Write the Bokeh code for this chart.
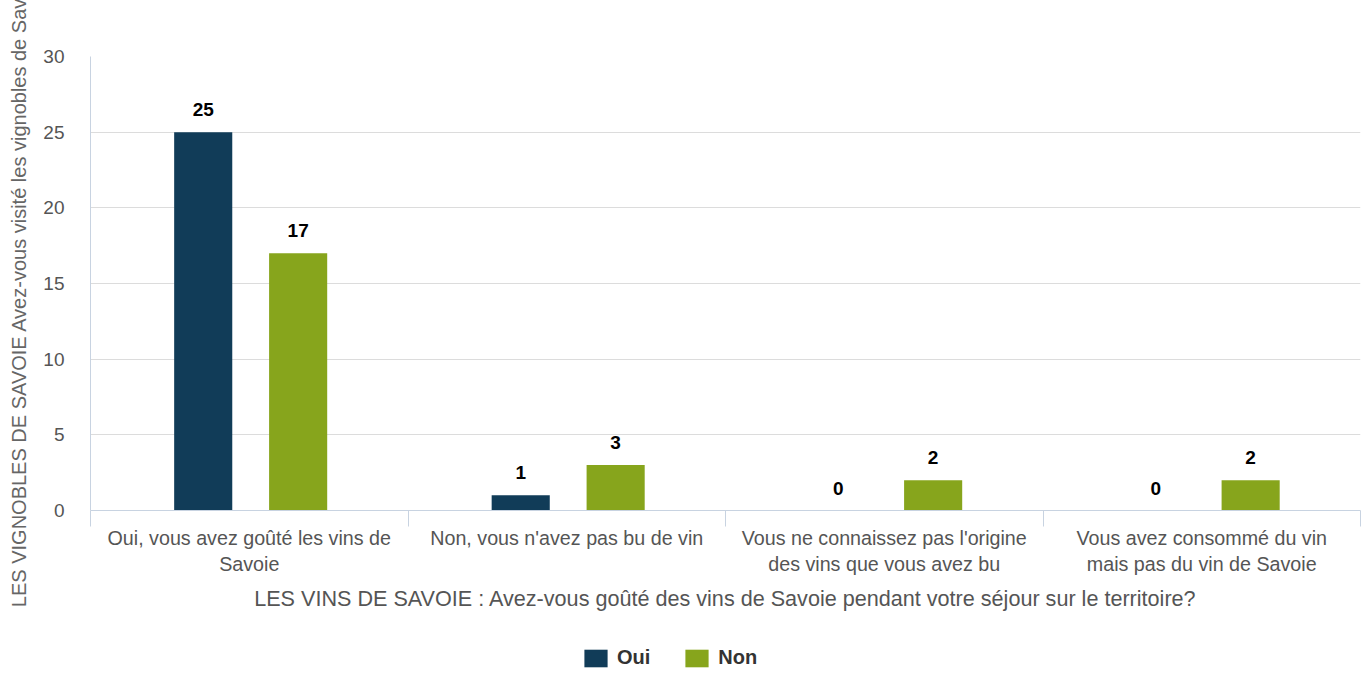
from bokeh.plotting import figure
from bokeh.models import (ColumnDataSource, Range1d, FixedTicker, LabelSet,
                          Legend, LegendItem)
from bokeh.layouts import column
from bokeh.core.properties import value
from bokeh.transform import dodge
from bokeh.embed import file_html
from bokeh.resources import INLINE

categories = [
    "Oui, vous avez goûté les vins de\nSavoie",
    "Non, vous n'avez pas bu de vin",
    "Vous ne connaissez pas l'origine\ndes vins que vous avez bu",
    "Vous avez consommé du vin\nmais pas du vin de Savoie",
]
oui = [25, 1, 0, 0]
non = [17, 3, 2, 2]
series_names = ["Oui", "Non"]
colors = ["#113c58", "#87a51c"]
y_ticks = [0, 5, 10, 15, 20, 25, 30]
x_title = "LES VINS DE SAVOIE : Avez-vous goûté des vins de Savoie pendant votre séjour sur le territoire?"
y_title = "LES VIGNOBLES DE SAVOIE Avez-vous visité les vignobles de Savoie?"

idx = list(range(len(categories)))
src = ColumnDataSource(dict(
    x=idx, oui=oui, non=non,
    oui_t=[str(v) for v in oui], non_t=[str(v) for v in non],
))

FONT = "Liberation Sans"

p = figure(frame_width=1270, frame_height=454, output_backend="svg", toolbar_location=None,
           x_range=Range1d(-0.5, len(categories) - 0.5), y_range=Range1d(0, 30),
           min_border_left=90, min_border_top=56, min_border_right=1, min_border_bottom=130)
p.outline_line_color = None
p.background_fill_color = "white"

off_l = -0.145
off_r = 0.154
w = 0.183
r1 = p.vbar(x=dodge("x", off_l), top="oui", width=w, source=src, color=colors[0], line_color=None)
r2 = p.vbar(x=dodge("x", off_r), top="non", width=w, source=src, color=colors[1], line_color=None)

for col, d in (("oui_t", off_l), ("non_t", off_r)):
    lab = LabelSet(x=dodge("x", d), y=col.replace("_t", ""), text=col, source=src,
                   text_align="center", text_baseline="bottom", y_offset=16,
                   text_font=value(FONT), text_font_style="bold", text_font_size="19px",
                   text_color="black")
    p.add_layout(lab)

# x axis
xa = p.xaxis[0]
xa.ticker = FixedTicker(ticks=idx, minor_ticks=[i - 0.5 for i in idx] + [len(idx) - 0.5])
xa.major_label_overrides = {i: c for i, c in zip(idx, categories)}
xa.major_tick_out = 0
xa.major_tick_in = 0
xa.minor_tick_out = 16
xa.minor_tick_in = 0
xa.minor_tick_line_color = "#c8d3e1"
xa.axis_line_color = "#c8d3e1"
xa.major_label_text_font = FONT
xa.major_label_text_font_size = "19.7px"
xa.major_label_text_color = "#555555"
xa.major_label_standoff = 0
xa.axis_label = x_title
xa.axis_label_text_font = FONT
xa.axis_label_text_font_size = "21.6px"
xa.axis_label_text_font_style = "normal"
xa.axis_label_text_color = "#555555"
xa.axis_label_standoff = 8

ya = p.yaxis[0]
ya.ticker = FixedTicker(ticks=y_ticks)
ya.major_tick_out = 0
ya.major_tick_in = 0
ya.minor_tick_out = 0
ya.minor_tick_in = 0
ya.axis_line_color = "#c8d3e1"
ya.major_label_text_font = FONT
ya.major_label_text_font_size = "19px"
ya.major_label_text_color = "#555555"
ya.major_label_standoff = 26
ya.axis_label = y_title
ya.axis_label_text_font = FONT
ya.axis_label_text_font_size = "20px"
ya.axis_label_text_font_style = "normal"
ya.axis_label_text_color = "#666666"
ya.axis_label_standoff = 10

p.xgrid.grid_line_color = None
p.ygrid.grid_line_color = "#dcdcdc"
p.ygrid.ticker = FixedTicker(ticks=y_ticks)

# legend strip below the chart
leg = figure(width=1361, height=30, output_backend="svg", toolbar_location=None,
             x_axis_location=None, y_axis_location=None,
             x_range=Range1d(0, 1), y_range=Range1d(0, 1),
             min_border_left=0, min_border_right=0, min_border_top=0, min_border_bottom=0)
leg.outline_line_color = None
leg.grid.visible = False
items = []
for name, c in zip(series_names, colors):
    r = leg.vbar(x=[0.5], top=[0], width=0, color=c, line_color=None)
    items.append(LegendItem(label=name, renderers=[r]))
legend = Legend(items=items, orientation="horizontal", location=(491, 1),
                glyph_width=29, glyph_height=22, label_standoff=7, spacing=32,
                label_text_font=FONT, label_text_font_style="bold",
                label_text_font_size="20px", label_text_color="#333333",
                border_line_color=None, background_fill_alpha=0,
                margin=0, padding=0)
leg.add_layout(legend, "center")

layout = column(p, leg, spacing=0)
open("out.html", "w").write(file_html(layout, INLINE))
